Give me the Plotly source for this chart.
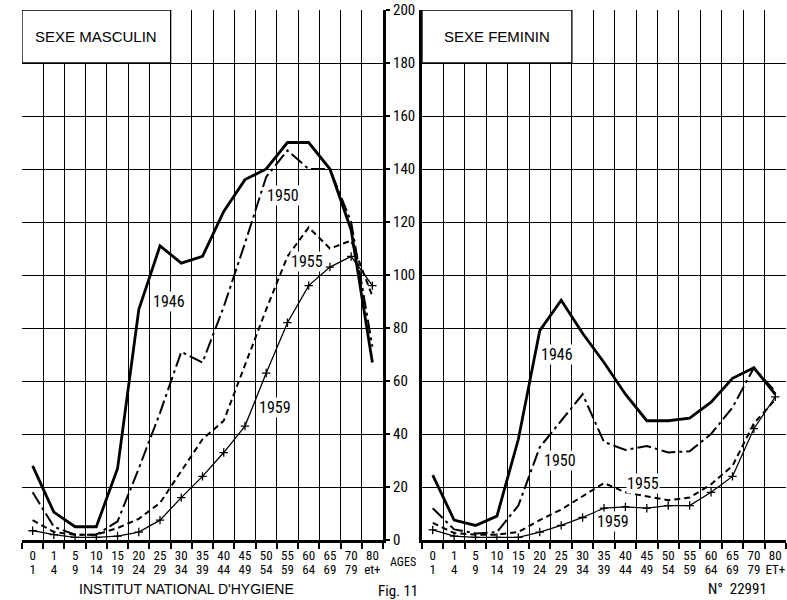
import plotly.graph_objects as go

# ---------------- data ----------------
age_top = ["0", "1", "5", "10", "15", "20", "25", "30", "35", "40", "45", "50", "55", "60", "65", "70", "80"]
age_bottom_m = ["1", "4", "9", "14", "19", "24", "29", "34", "39", "44", "49", "54", "59", "64", "69", "79", "et+"]
age_bottom_f = ["1", "4", "9", "14", "19", "24", "29", "34", "39", "44", "49", "54", "59", "64", "69", "79", "ET+"]

male_1946 = [28, 10.5, 5, 5, 27, 87, 111, 104.5, 107, 124, 136, 140, 150, 150, 140, 117, 67]
male_1950 = [18, 5, 2, 2, 7, 27, 48, 71, 67, 88, 112, 137, 147, 140, 140, 120, 73]
male_1955 = [7.5, 3, 2, 2, 4.5, 8, 14, 26, 38, 45, 66, 87, 107, 118, 110, 113, 92]
male_1959 = [3.5, 2, 1, 1, 1.5, 3, 7.5, 16, 24, 33, 43, 63, 82, 96, 103, 107, 96]

female_1946 = [24.5, 7.5, 5.5, 9, 38, 79, 90.5, 78, 67, 55, 45, 45, 46, 52, 61, 65, 55]
female_1950 = [12, 4, 2.5, 3, 13, 35, 45, 55, 37, 34, 35.5, 33, 33.5, 40, 50, 65, 56]
female_1955 = [6.5, 2.6, 2, 2, 3, 7.5, 11.5, 16.5, 21.5, 18, 16.5, 15, 16, 21, 28, 44, 53]
female_1959 = [3.8, 1.5, 1, 1, 1, 3, 5.5, 8.5, 12, 12.5, 12, 13, 13, 18, 24, 42, 54]

y_ticks = [0, 20, 40, 60, 80, 100, 120, 140, 160, 180, 200]

FONT = "Liberation Sans Narrow, Roboto Condensed, DejaVu Sans Condensed, Arial Narrow, Roboto, Liberation Sans, sans-serif"
WIDE = "Liberation Sans, Arial, sans-serif"

xs = list(range(len(age_top)))

styles = {
    "1946": dict(width=2.8, dash="solid"),
    "1950": dict(width=2.0, dash="14px,4px,3px,4px"),
    "1955": dict(width=2.0, dash="6px,4px"),
    "1959": dict(width=1.3, dash="solid"),
}

fig = go.Figure()

def add_series(vals, year, xa, ya):
    st = styles[year]
    mode = "lines+markers" if year == "1959" else "lines"
    fig.add_trace(go.Scatter(
        x=xs, y=vals, mode=mode, xaxis=xa, yaxis=ya,
        line=dict(color="black", width=st["width"], dash=st["dash"]),
        marker=dict(symbol="cross-thin", size=6, line=dict(color="black", width=1.3)),
        showlegend=False, hoverinfo="skip", cliponaxis=False))

for vals, yr in [(male_1946, "1946"), (male_1950, "1950"), (male_1955, "1955"), (male_1959, "1959")]:
    add_series(vals, yr, "x", "y")
for vals, yr in [(female_1946, "1946"), (female_1950, "1950"), (female_1955, "1955"), (female_1959, "1959")]:
    add_series(vals, yr, "x2", "y2")

grid_x = [i - 0.5 for i in range(len(age_top) + 1)]
XRANGE = [-0.5, len(age_top) - 0.5]
TICKFONT = dict(family=FONT, size=13, color="black")

def xaxis_cfg(domain, ticktext, anchor):
    return dict(
        domain=domain, range=XRANGE, anchor=anchor,
        automargin=False,
        tickmode="array", tickvals=xs, ticktext=ticktext, ticks="",
        showgrid=False, zeroline=False,
        showline=True, linecolor="black", linewidth=3,
        tickfont=TICKFONT, ticklabelstandoff=1,
        minor=dict(tickvals=grid_x, showgrid=True, gridcolor="black", gridwidth=1.3,
                   ticks="outside", ticklen=6, tickcolor="black", tickwidth=1.5),
    )

def xaxis_row2(domain, ticktext, over):
    return dict(
        domain=domain, range=XRANGE, overlaying=over, anchor="free",
        position=40 / 600, automargin=False,
        tickmode="array", tickvals=xs, ticktext=ticktext, ticks="",
        showgrid=False, zeroline=False, showline=False,
        tickfont=TICKFONT,
    )

y_dom = [60 / 600, 590 / 600]
dom_m = [22 / 787, 383 / 787]
dom_f = [422 / 787, 786 / 787]

fig.update_layout(
    width=787, height=600,
    margin=dict(l=0, r=0, t=0, b=0, autoexpand=False),
    paper_bgcolor="white", plot_bgcolor="white",
    font=dict(family=FONT, color="black"),
    xaxis=xaxis_cfg(dom_m, age_top, "y"),
    xaxis2=xaxis_cfg(dom_f, age_top, "y2"),
    xaxis3=xaxis_row2(dom_m, age_bottom_m, "x"),
    xaxis4=xaxis_row2(dom_f, age_bottom_f, "x2"),
    yaxis=dict(domain=y_dom, range=[0, 200], anchor="x", side="right", automargin=False,
               tickmode="array", tickvals=y_ticks, ticks="outside", ticklen=4,
               tickcolor="black", tickwidth=1.5,
               tickfont=dict(family=FONT, size=15, color="black"),
               showgrid=True, gridcolor="black", gridwidth=1.3, zeroline=False,
               showline=True, linecolor="black", linewidth=3),
    yaxis2=dict(domain=y_dom, range=[0, 200], anchor="x2", side="left", automargin=False,
                tickmode="array", tickvals=y_ticks, ticks="", showticklabels=False,
                showgrid=True, gridcolor="black", gridwidth=1.3, zeroline=False,
                showline=True, linecolor="black", linewidth=3),
)

# invisible anchor traces so that the second-row label axes are drawn
fig.add_trace(go.Scatter(x=[0], y=[None], xaxis="x3", yaxis="y", showlegend=False, hoverinfo="skip"))
fig.add_trace(go.Scatter(x=[0], y=[None], xaxis="x4", yaxis="y2", showlegend=False, hoverinfo="skip"))

# title boxes (cover the grid in the top-left corner of each panel)
for xr, yr in [("x", "y"), ("x2", "y2")]:
    fig.add_shape(type="rect", xref=xr, yref=yr, x0=-0.5, x1=6.5, y0=180, y1=200,
                  fillcolor="white", line=dict(color="black", width=1.3), layer="above")

ann = []
ann.append(dict(x=3, y=190, xref="x", yref="y", text="SEXE MASCULIN", showarrow=False,
                font=dict(family=WIDE, size=15, color="black")))
ann.append(dict(x=3, y=190, xref="x2", yref="y2", text="SEXE FEMININ", showarrow=False,
                font=dict(family=WIDE, size=15, color="black")))

year_labels = [
    ("x", "y", 6.4, 90, "1946"), ("x", "y", 11.8, 130, "1950"),
    ("x", "y", 12.9, 105, "1955"), ("x", "y", 11.4, 50, "1959"),
    ("x2", "y2", 5.8, 70, "1946"), ("x2", "y2", 5.95, 30, "1950"),
    ("x2", "y2", 9.8, 21.5, "1955"), ("x2", "y2", 8.4, 7, "1959"),
]
for xr, yr, xv, yv, t in year_labels:
    ann.append(dict(x=xv, y=yv, xref=xr, yref=yr, text=t, showarrow=False,
                    bgcolor="white", borderpad=0,
                    font=dict(family=FONT, size=16, color="black")))

def paper_text(xpx, ypx, text, size, family=FONT):
    return dict(x=xpx / 787, y=1 - ypx / 600, xref="paper", yref="paper", text=text,
                showarrow=False, xanchor="center", yanchor="middle",
                font=dict(family=family, size=size, color="black"))

ann.append(paper_text(403, 562, "AGES", 12))
ann.append(paper_text(186, 589, "INSTITUT NATIONAL D'HYGIENE", 14, WIDE))
ann.append(paper_text(737, 589, "N°  22991", 15))
ann.append(paper_text(398, 591, "Fig. 11", 15))
fig.update_layout(annotations=ann)

fig.write_html("out.html", config={"displayModeBar": False},
               post_script="document.body.style.margin='0';document.body.style.overflow='hidden';")
